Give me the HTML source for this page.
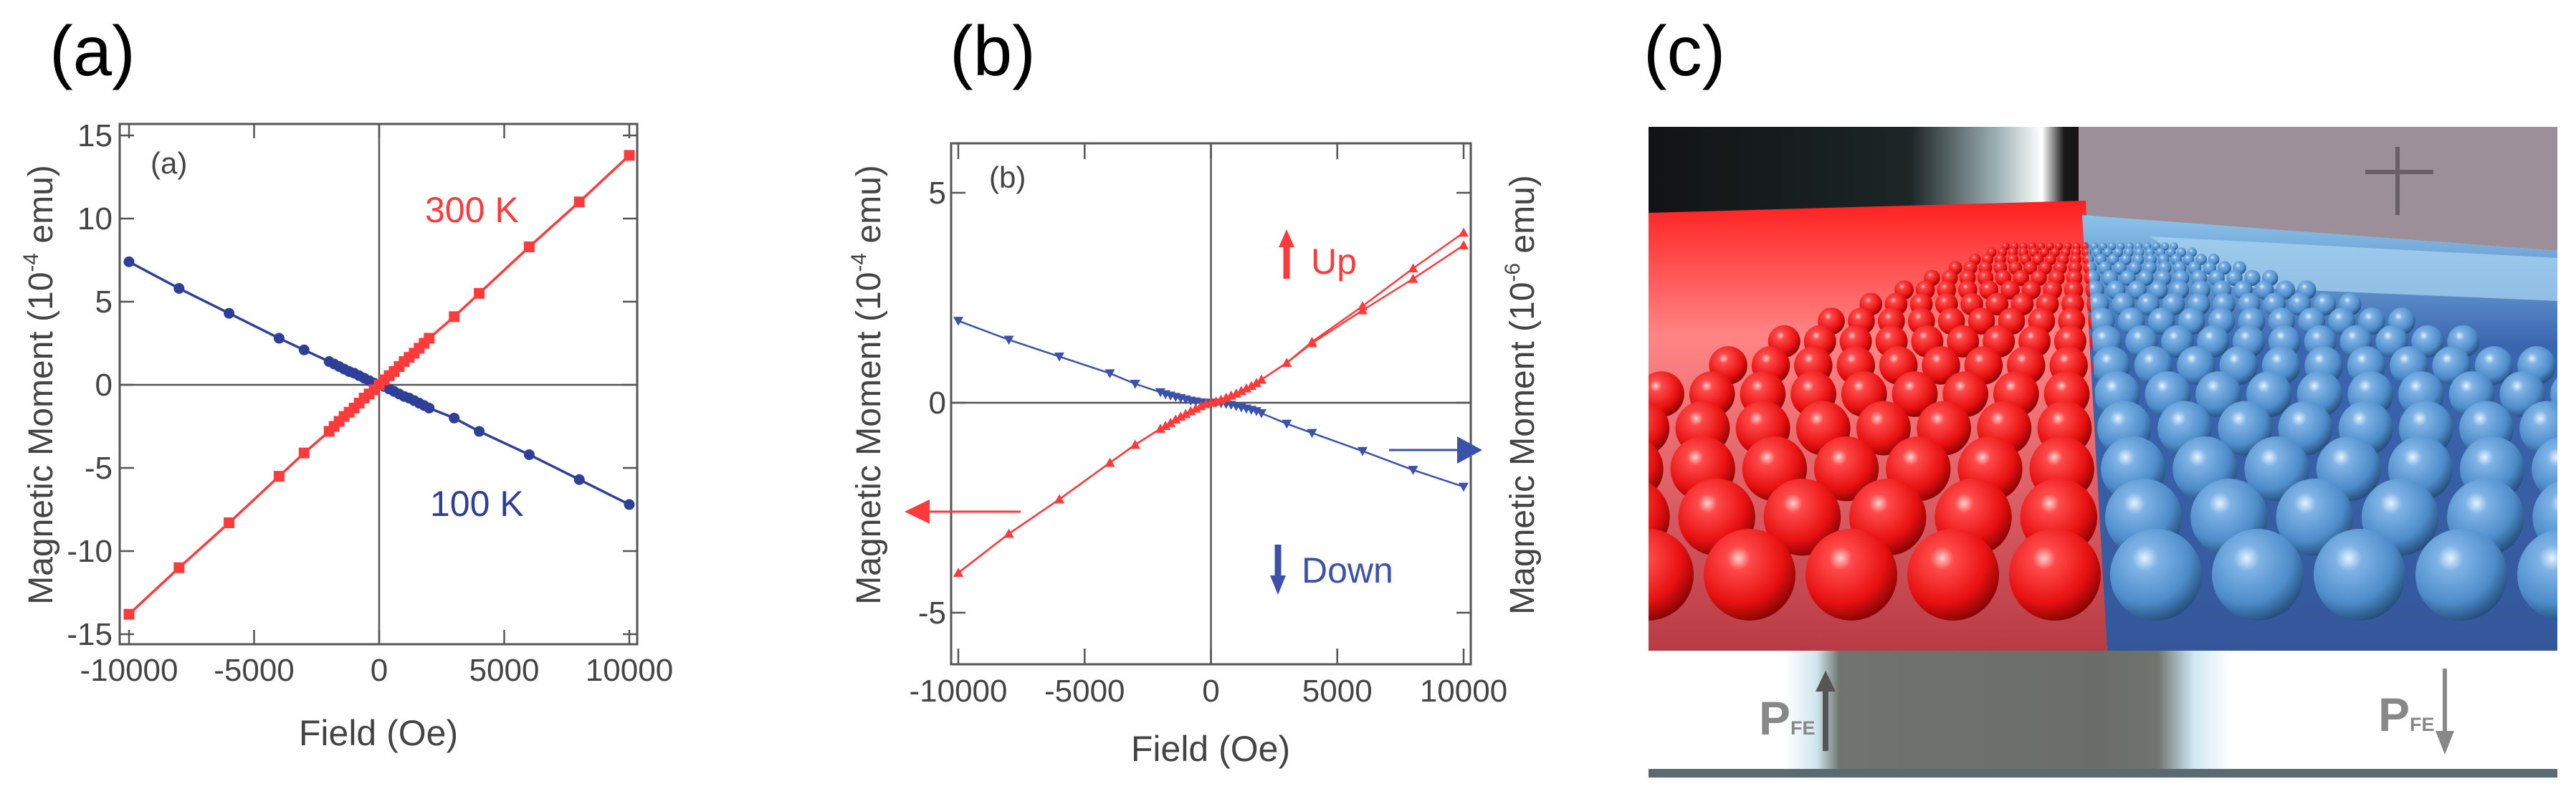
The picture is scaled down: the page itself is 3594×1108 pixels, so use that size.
<!DOCTYPE html>
<html><head><meta charset="utf-8">
<style>
html,body{margin:0;padding:0;background:#fff;}
svg{display:block;}
text{font-family:"Liberation Sans",sans-serif;}
</style></head>
<body>
<svg id="fig" width="3594" height="1108" viewBox="0 0 3594 1108" xmlns="http://www.w3.org/2000/svg">
<defs>
  <radialGradient id="redBall" cx="0.38" cy="0.32" r="0.7">
    <stop offset="0" stop-color="#ffd0d0"/>
    <stop offset="0.18" stop-color="#ff4a4a"/>
    <stop offset="0.7" stop-color="#e81010"/>
    <stop offset="1" stop-color="#8a0505"/>
  </radialGradient>
  <radialGradient id="blueBall" cx="0.38" cy="0.32" r="0.7">
    <stop offset="0" stop-color="#e6f2ff"/>
    <stop offset="0.2" stop-color="#7fb3e6"/>
    <stop offset="0.7" stop-color="#4d8cca"/>
    <stop offset="1" stop-color="#25507e"/>
  </radialGradient>
  <linearGradient id="redFloor" x1="0" y1="0" x2="0" y2="1">
    <stop offset="0" stop-color="#ff1f1f"/>
    <stop offset="0.3" stop-color="#ff8585"/>
    <stop offset="1" stop-color="#b83a44"/>
  </linearGradient>
  <linearGradient id="blueFloor" x1="0" y1="0" x2="0" y2="1">
    <stop offset="0" stop-color="#8cc3ea"/>
    <stop offset="0.3" stop-color="#3a66b0"/>
    <stop offset="1" stop-color="#35579a"/>
  </linearGradient>
  <linearGradient id="band" x1="0" y1="0" x2="1" y2="0">
    <stop offset="0" stop-color="#ffffff"/>
    <stop offset="0.15" stop-color="#ffffff"/>
    <stop offset="0.185" stop-color="#cfe6ee"/>
    <stop offset="0.21" stop-color="#6f746e"/>
    <stop offset="0.5" stop-color="#6b6e68"/>
    <stop offset="0.56" stop-color="#6f746e"/>
    <stop offset="0.6" stop-color="#cfe8f2"/>
    <stop offset="0.64" stop-color="#ffffff"/>
    <stop offset="1" stop-color="#ffffff"/>
  </linearGradient>
  <linearGradient id="topDark" x1="0" y1="0" x2="1" y2="0">
    <stop offset="0" stop-color="#101415"/>
    <stop offset="0.6" stop-color="#1d2527"/>
    <stop offset="0.8" stop-color="#9fb3b5"/>
    <stop offset="0.9" stop-color="#ffffff"/>
    <stop offset="0.95" stop-color="#1a1a1a"/>
    <stop offset="1" stop-color="#111"/>
  </linearGradient>
  <clipPath id="clipC"><rect x="2300" y="177" width="1268" height="731"/></clipPath>
  <clipPath id="clipRed"><polygon points="2300,177 2905,177 2940,908 2300,908"/></clipPath>
  <clipPath id="clipBlue"><polygon points="2905,177 3568,177 3568,908 2940,908"/></clipPath>
</defs>

<text x="69" y="105" font-size="98" fill="#000">(a)</text>
<text x="1325" y="105" font-size="98" fill="#000">(b)</text>
<text x="2293" y="105" font-size="98" fill="#000">(c)</text>

<g id="chartA"></g>
<g id="chartB"></g>

<g id="panelC">
  <g clip-path="url(#clipC)">
    <rect x="2300" y="177" width="610" height="200" fill="url(#topDark)"/>
    <polygon points="2900,177 3568,177 3568,350 2900,300" fill="#9c8f99"/>
    <path d="M3345 205 V300 M3300 240 H3395" stroke="#6a5f68" stroke-width="6" fill="none"/>
    <polygon points="2300,297 2910,280 2940,908 2300,908" fill="url(#redFloor)"/>
    <polygon points="2905,300 3568,350 3568,908 2940,908" fill="url(#blueFloor)"/>
    <polygon points="3000,330 3568,360 3568,420 3100,400" fill="#a9d6f2" opacity="0.7"/>
    <g id="ballsRed" clip-path="url(#clipRed)"></g>
    <g id="ballsBlue" clip-path="url(#clipBlue)"></g>
  </g>
  <rect x="2300" y="908" width="1268" height="165" fill="url(#band)"/>
  <rect x="2300" y="1073" width="1268" height="12" fill="#5a6a72"/>
  <text x="2454" y="1025" font-size="66" font-weight="bold" fill="#888">P<tspan font-size="27">FE</tspan></text>
  <line x1="2547" y1="1048" x2="2547" y2="960" stroke="#555" stroke-width="8"/>
  <polygon points="2533,965 2547,936 2561,965" fill="#555"/>
  <text x="3318" y="1020" font-size="66" font-weight="bold" fill="#888">P<tspan font-size="27">FE</tspan></text>
  <line x1="3411" y1="933" x2="3411" y2="1025" stroke="#888" stroke-width="6"/>
  <polygon points="3398,1020 3411,1053 3424,1020" fill="#888"/>
</g>

<script>
// ---------- Panel (a) data ----------
const fieldA = [-10000,-8000,-6000,-4000,-3000,-2000,-1800,-1600,-1400,-1200,-1000,-800,-600,-400,-200,0,200,400,600,800,1000,1200,1400,1600,1800,2000,3000,4000,6000,8000,10000];
const m300K = [-13.8,-11,-8.3,-5.5,-4.1,-2.8,-2.5,-2.2,-1.9,-1.65,-1.4,-1.1,-0.8,-0.55,-0.3,0,0.3,0.55,0.8,1.1,1.4,1.65,1.9,2.2,2.5,2.8,4.1,5.5,8.3,11,13.8];
const m100K = [7.4,5.8,4.3,2.8,2.1,1.4,1.25,1.1,0.95,0.8,0.7,0.55,0.4,0.25,0.1,0,-0.1,-0.25,-0.4,-0.55,-0.7,-0.8,-0.95,-1.1,-1.25,-1.4,-2.0,-2.8,-4.2,-5.7,-7.2];
const xTicksA = [-10000,-5000,0,5000,10000];
const yTicksA = [15,10,5,0,-5,-10,-15];

// ---------- Panel (b) data ----------
const fieldB = [-10000,-8000,-6000,-4000,-3000,-2000,-1800,-1600,-1400,-1200,-1000,-800,-600,-400,-200,0,200,400,600,800,1000,1200,1400,1600,1800,2000,3000,4000,6000,8000,10000];
const upBranch1 = [-4.05,-3.12,-2.3,-1.43,-1.0,-0.62,-0.55,-0.48,-0.4,-0.33,-0.27,-0.2,-0.14,-0.08,-0.03,0,0.03,0.07,0.12,0.17,0.22,0.28,0.34,0.4,0.47,0.55,0.95,1.45,2.3,3.2,4.05];
const upBranch2 = [-4.05,-3.12,-2.3,-1.43,-1.0,-0.62,-0.55,-0.48,-0.4,-0.33,-0.27,-0.2,-0.14,-0.08,-0.03,0,0.03,0.07,0.12,0.17,0.22,0.28,0.34,0.4,0.47,0.55,0.95,1.42,2.2,2.95,3.75];
const downVals = [1.95,1.5,1.1,0.7,0.45,0.25,0.2,0.17,0.14,0.11,0.08,0.05,0.03,0.01,0,0,0,-0.01,-0.03,-0.05,-0.08,-0.11,-0.14,-0.17,-0.2,-0.25,-0.5,-0.72,-1.15,-1.6,-2.0];
const xTicksB = [-10000,-5000,0,5000,10000];
const yTicksB = [5,0,-5];

const NS = "http://www.w3.org/2000/svg";
function mk(parent, tag, attrs, txt){
  const e = document.createElementNS(NS, tag);
  for (const k in attrs) e.setAttribute(k, attrs[k]);
  if (txt !== undefined) e.textContent = txt;
  parent.appendChild(e);
  return e;
}
function lin(d0,d1,r0,r1){ return v => r0 + (v-d0)*(r1-r0)/(d1-d0); }
function yTitle(g, cx, cy, exp){
  const t = mk(g,'text',{x:0,y:0,'font-size':48,'text-anchor':'middle',fill:'#444',transform:'translate('+cx+','+cy+') rotate(-90)'});
  mk(t,'tspan',{},'Magnetic Moment (10');
  mk(t,'tspan',{'font-size':30,dy:-20},exp);
  mk(t,'tspan',{dy:20},' emu)');
  return t;
}

const RED = "#ff3a3a", BLUEA = "#2e3f98", BLUEB = "#3a52aa", AX = "#555";

// ===== Chart A =====
(function(){
  const g = document.getElementById('chartA');
  const L=167,R=889,T=173,B=899;
  const X = lin(-10000,10000,180,878);
  const Y = lin(-15,15,885,189);
  let e;
  e = mk(g,'rect',{x:L,y:T,width:R-L,height:B-T,fill:'none',stroke:AX,'stroke-width':3});
  
  
  e = mk(g,'line',{x1:X(0),y1:T,x2:X(0),y2:B,stroke:AX,'stroke-width':2.5});
  
  
  e = mk(g,'line',{x1:L,y1:Y(0),x2:R,y2:Y(0),stroke:AX,'stroke-width':2.5});
  
  
  xTicksA.forEach(t=>{
    mk(g,'line',{x1:X(t),y1:B,x2:X(t),y2:B-20,stroke:AX,'stroke-width':2.5});
    mk(g,'line',{x1:X(t),y1:T,x2:X(t),y2:T+20,stroke:AX,'stroke-width':2.5});
    e = mk(g,'text',{x:X(t),y:950,'font-size':44,'text-anchor':'middle',fill:'#444'},String(t));
    
    
  });
  yTicksA.forEach(t=>{
    mk(g,'line',{x1:L,y1:Y(t),x2:L+20,y2:Y(t),stroke:AX,'stroke-width':2.5});
    mk(g,'line',{x1:R,y1:Y(t),x2:R-20,y2:Y(t),stroke:AX,'stroke-width':2.5});
    e = mk(g,'text',{x:157,y:Y(t)+15,'font-size':44,'text-anchor':'end',fill:'#444'},String(t));
    
    
  });
  e = mk(g,'text',{x:528,y:1040,'font-size':50,'text-anchor':'middle',fill:'#444'},'Field (Oe)');
  
  
  e = yTitle(g,73,537,'-4');
  
  
  e = mk(g,'text',{x:210,y:242,'font-size':42,fill:'#444'},'(a)');
  
  
  e = mk(g,'text',{x:593,y:310,'font-size':50,fill:RED},'300 K');
  
  
  e = mk(g,'text',{x:600,y:720,'font-size':50,fill:BLUEA},'100 K');
  
  
  e = mk(g,'polyline',{points:fieldA.map((f,i)=>X(f)+','+Y(m100K[i])).join(' '),fill:'none',stroke:BLUEA,'stroke-width':3.5});
  
  
  fieldA.forEach((f,i)=>{
    const c = mk(g,'circle',{cx:X(f),cy:Y(m100K[i]),r:7.5,fill:BLUEA});
    
    
  });
  e = mk(g,'polyline',{points:fieldA.map((f,i)=>X(f)+','+Y(m300K[i])).join(' '),fill:'none',stroke:RED,'stroke-width':3.5});
  
  
  fieldA.forEach((f,i)=>{
    const s = mk(g,'rect',{x:X(f)-7.5,y:Y(m300K[i])-7.5,width:15,height:15,fill:RED});
    
    
  });
})();

// ===== Chart B =====
(function(){
  const g = document.getElementById('chartB');
  const L=1327,R=2052,T=200,B=927;
  const X = lin(-10000,10000,1337,2042);
  const Y = lin(-5,5,855,269);
  let e;
  e = mk(g,'rect',{x:L,y:T,width:R-L,height:B-T,fill:'none',stroke:AX,'stroke-width':3});
  
  
  e = mk(g,'line',{x1:X(0),y1:T,x2:X(0),y2:B,stroke:AX,'stroke-width':2.5});
  
  
  e = mk(g,'line',{x1:L,y1:Y(0),x2:R,y2:Y(0),stroke:AX,'stroke-width':2.5});
  
  
  xTicksB.forEach(t=>{
    mk(g,'line',{x1:X(t),y1:B,x2:X(t),y2:B-22,stroke:AX,'stroke-width':2.5});
    mk(g,'line',{x1:X(t),y1:T,x2:X(t),y2:T+22,stroke:AX,'stroke-width':2.5});
    e = mk(g,'text',{x:X(t),y:979,'font-size':44,'text-anchor':'middle',fill:'#444'},String(t));
    
    
  });
  yTicksB.forEach(t=>{
    mk(g,'line',{x1:L,y1:Y(t),x2:L+20,y2:Y(t),stroke:AX,'stroke-width':2.5});
    mk(g,'line',{x1:R,y1:Y(t),x2:R-20,y2:Y(t),stroke:AX,'stroke-width':2.5});
    e = mk(g,'text',{x:1320,y:Y(t)+15,'font-size':44,'text-anchor':'end',fill:'#444'},String(t));
    
    
  });
  e = mk(g,'text',{x:1689,y:1062,'font-size':50,'text-anchor':'middle',fill:'#444'},'Field (Oe)');
  
  
  e = yTitle(g,1228,537,'-4');
  
  
  e = yTitle(g,2140,551,'-6');
  
  
  e = mk(g,'text',{x:1380,y:262,'font-size':42,fill:'#444'},'(b)');
  
  
  e = mk(g,'line',{x1:1795,y1:389,x2:1795,y2:340,stroke:RED,'stroke-width':9});
  
  
  mk(g,'polygon',{points:'1784,345 1795,320 1806,345',fill:RED});
  e = mk(g,'text',{x:1829,y:382,'font-size':50,fill:RED},'Up');
  
  
  e = mk(g,'line',{x1:1783,y1:760,x2:1783,y2:808,stroke:BLUEB,'stroke-width':9});
  
  
  mk(g,'polygon',{points:'1772,803 1783,830 1794,803',fill:BLUEB});
  e = mk(g,'text',{x:1816,y:813,'font-size':50,fill:BLUEB},'Down');
  
  
  e = mk(g,'line',{x1:1424,y1:714,x2:1290,y2:714,stroke:RED,'stroke-width':3});
  
  
  mk(g,'polygon',{points:'1297,697 1262,714 1297,731',fill:RED});
  e = mk(g,'line',{x1:1938,y1:628,x2:2040,y2:628,stroke:BLUEB,'stroke-width':3});
  
  
  mk(g,'polygon',{points:'2033,609 2068,628 2033,647',fill:BLUEB});
  function tri(x,y,down,col,name){
    const s = 7;
    const p = down ? `${x-s},${y-s*0.8} ${x+s},${y-s*0.8} ${x},${y+s}` : `${x-s},${y+s*0.8} ${x+s},${y+s*0.8} ${x},${y-s}`;
    const t = mk(g,'polygon',{points:p,fill:col});
    
    
  }
  e = mk(g,'polyline',{points:fieldB.map((f,i)=>X(f)+','+Y(downVals[i])).join(' '),fill:'none',stroke:BLUEB,'stroke-width':2.5});
  
  
  fieldB.forEach((f,i)=>tri(X(f),Y(downVals[i]),true,BLUEB,'point-down'));
  e = mk(g,'polyline',{points:fieldB.map((f,i)=>X(f)+','+Y(upBranch1[i])).join(' '),fill:'none',stroke:RED,'stroke-width':2.5});
  
  
  e = mk(g,'polyline',{points:fieldB.map((f,i)=>X(f)+','+Y(upBranch2[i])).join(' '),fill:'none',stroke:RED,'stroke-width':2.5});
  
  
  fieldB.forEach((f,i)=>{ tri(X(f),Y(upBranch1[i]),false,RED,'point-up'); tri(X(f),Y(upBranch2[i]),false,RED,'point-up'); });
})();

// ===== Panel C balls (decorative) =====
(function(){
  const vx=2900, vy=300;
  function rows(gid, x0s, grad){
    const g = document.getElementById(gid);
    for (let k=14;k>=0;k--){
      const s = Math.pow(0.84,k);
      const y = vy + (802-vy)*s;
      const r = 64*s;
      x0s.forEach(x0=>{
        const x = vx + (x0-vx)*s;
        const c = mk(g,'circle',{cx:x,cy:y,r:r,fill:'url(#'+grad+')'});
        
        
      });
    }
  }
  const redX=[], blueX=[];
  for (let i=-8;i<=4;i++) redX.push(2867+142*i);
  for (let i=0;i<=10;i++) blueX.push(3008+142*i);
  rows('ballsRed', redX, 'redBall');
  rows('ballsBlue', blueX, 'blueBall');
})();
</script>
</svg>
</body></html>
